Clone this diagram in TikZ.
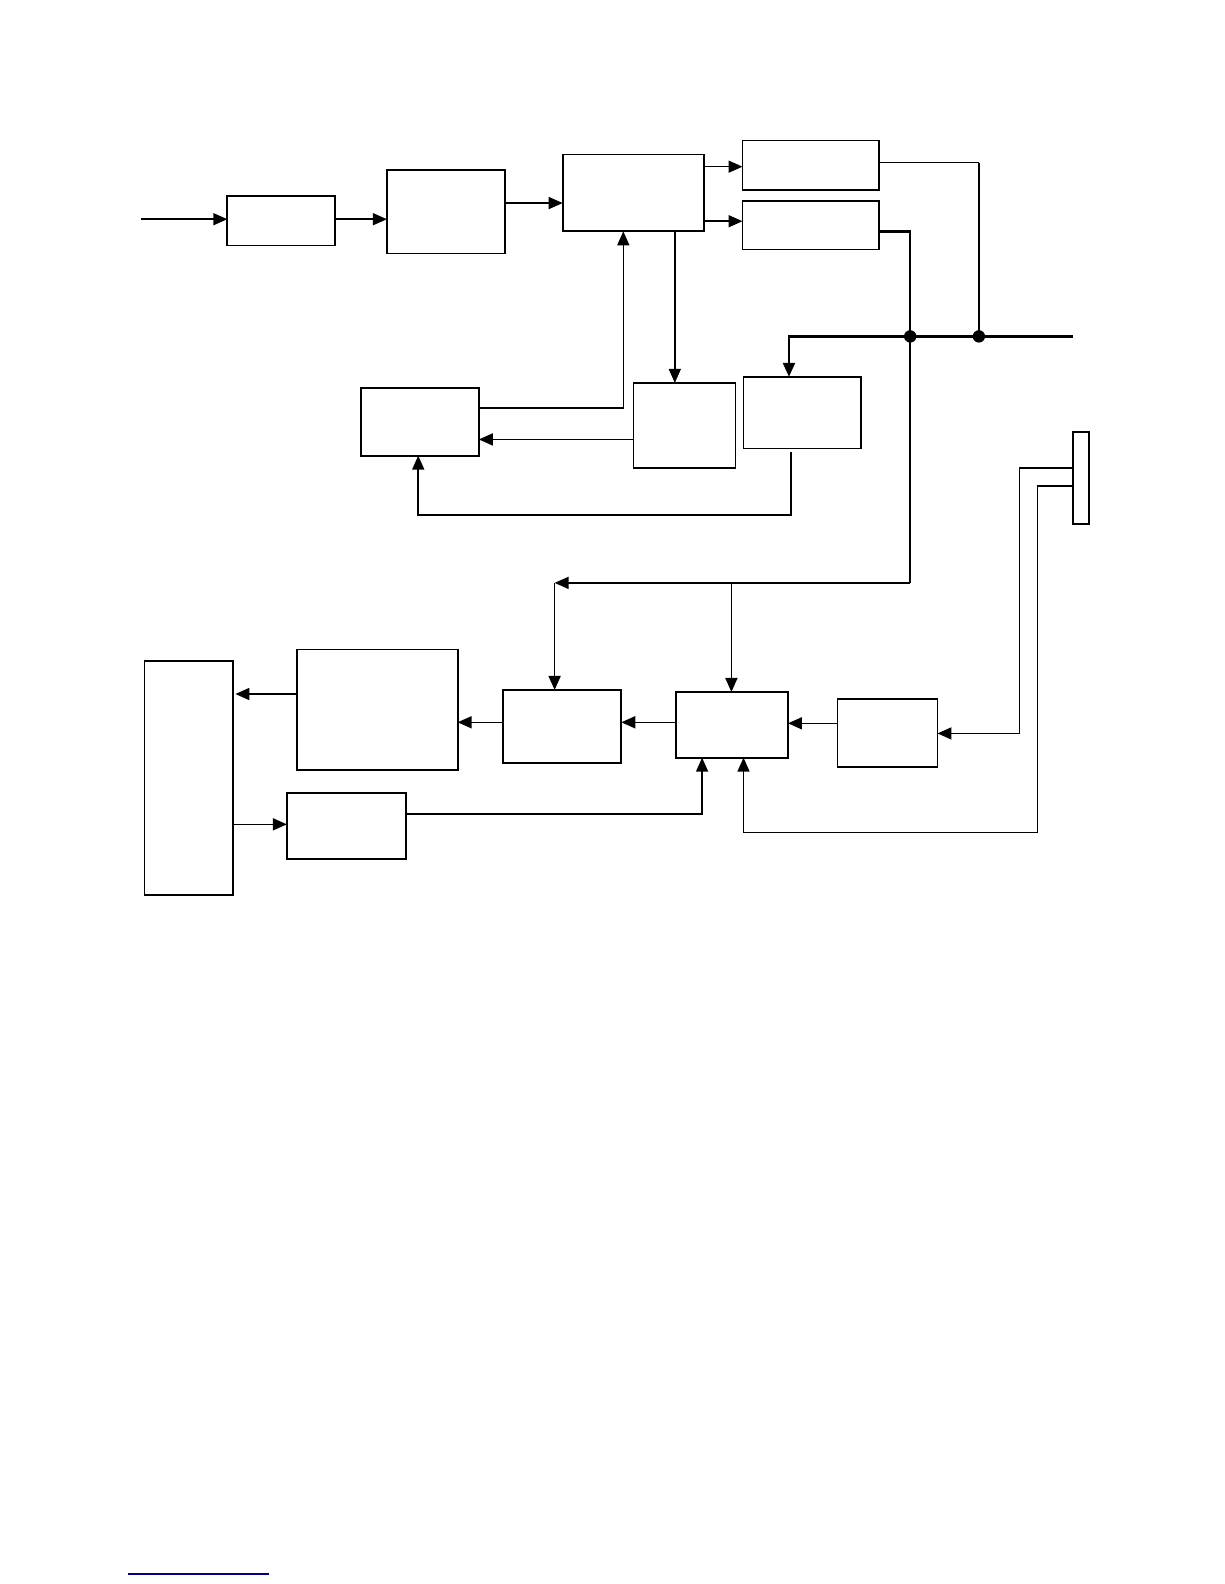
\documentclass[tikz,border=0pt]{standalone}
\usetikzlibrary{arrows.meta}
\begin{document}
\begin{tikzpicture}[x=0.50495pt,y=-0.50495pt,
  box/.style={draw, line width=0.9pt, inner sep=0pt, outer sep=0pt},
  conn/.style={line width=0.8pt},
  arr/.style={conn,-{Triangle[length=7pt,width=6pt]}},
  bus/.style={line width=1.2pt},
  dot/.style={circle, fill, inner sep=0pt, minimum size=6.2pt}]
\useasboundingbox (0,0) rectangle (1212,1568);
\newcommand{\bx}[5]{\node[box, minimum width={(#4-#2)*0.50495pt}, minimum height={(#5-#3)*0.50495pt}] (#1) at ({(#2+#4)/2},{(#3+#5)/2}) {};}
\bx{b1}{225}{194}{332}{243}
\bx{b2}{383}{168}{500}{251}
\bx{b3}{557}{153}{697}{229}
\bx{b4}{735}{139}{870}{188}
\bx{b5}{735}{199}{870}{247}
\bx{b6}{736}{373}{852}{444}
\bx{b7}{627}{379}{728}{463}
\bx{b8}{357}{384}{474}{451}
\bx{b9}{498}{683}{615}{755}
\bx{b10}{669}{685}{780}{750}
\bx{b11}{829}{692}{928}{759}
\bx{b12}{294}{643}{453}{762}
\bx{b13}{143}{654}{231}{886}
\bx{b14}{284}{785}{402}{850}
\bx{dev}{1062}{428}{1078}{519}
\coordinate (in) at (140,217);
\coordinate (j1) at (901,333);
\coordinate (j2) at (969,333);
\coordinate (busl) at (781,333);
\coordinate (busend) at (1062,333);
\coordinate (c577) at (901,577);
\coordinate (k1) at (549,577);
\coordinate (k2) at (724,577);
% top chain
\draw[arr] (in) -- (b1.west |- in);
\draw[arr] (b1.east |- 0,217) -- (b2.west |- 0,217);
\draw[arr] (b2.east |- 0,201) -- (b3.west |- 0,201);
\draw[arr] (b3.east |- 0,165) -- (b4.west |- 0,165);
\draw[arr] (b3.east |- 0,219) -- (b5.west |- 0,219);
\draw[conn] (b4.east |- 0,161) -- (969,161);
\draw[bus] (969,161) -- (j2);
\draw[bus] (b5.east |- 0,229) -| (j1);
\draw[bus,-{Triangle[length=7pt,width=6pt]}] (busend) -- (busl) -- (busl |- b6.north);
\node[dot] (d1) at (j1) {};
\node[dot] (d2) at (j2) {};
% middle
\draw[arr] (b3.south -| 668,0) -- (b7.north -| 668,0);
\draw[arr] (b8.east |- 0,404) -| (b3.south -| 617,0);
\draw[arr] (b7.west |- 0,435) -- (b8.east |- 0,435);
\draw[arr, shorten <=1.5pt] (b6.south -| 783,0) |- (414,510) -- (b8.south -| 414,0);
% bus down
\draw[bus] (j1) -- (c577);
\draw[arr] (c577) -- (k1);
\draw[arr] (k1) -- (k1 |- b9.north);
\draw[arr] (k2) -- (k2 |- b10.north);
% lower chain
\draw[arr] (b10.west |- 0,715) -- (b9.east |- 0,715);
\draw[arr] (b9.west |- 0,715) -- (b12.east |- 0,715);
\draw[arr, shorten >=1pt] (b12.west |- 0,687) -- (b13.east |- 0,687);
\draw[arr] (b13.east |- 0,816) -- (b14.west |- 0,816);
\draw[arr] (b14.east |- 0,806) -| (b10.south -| 695,0);
\draw[arr] (b11.west |- 0,716) -- (b10.east |- 0,716);
% device
\draw[bus] (dev.west |- 0,463) -- (1009,463);
\draw[arr] (1009,463) |- (b11.east |- 0,726);
\draw[arr] (dev.west |- 0,481) -| (1027,824) -| (b10.south -| 736,0);
% footer line
\coordinate (f1) at (127,1558);
\coordinate (f2) at (266,1558);
\draw[line width=0.9pt, blue!55!black] (f1) -- (f2);
\end{tikzpicture}
\end{document}
